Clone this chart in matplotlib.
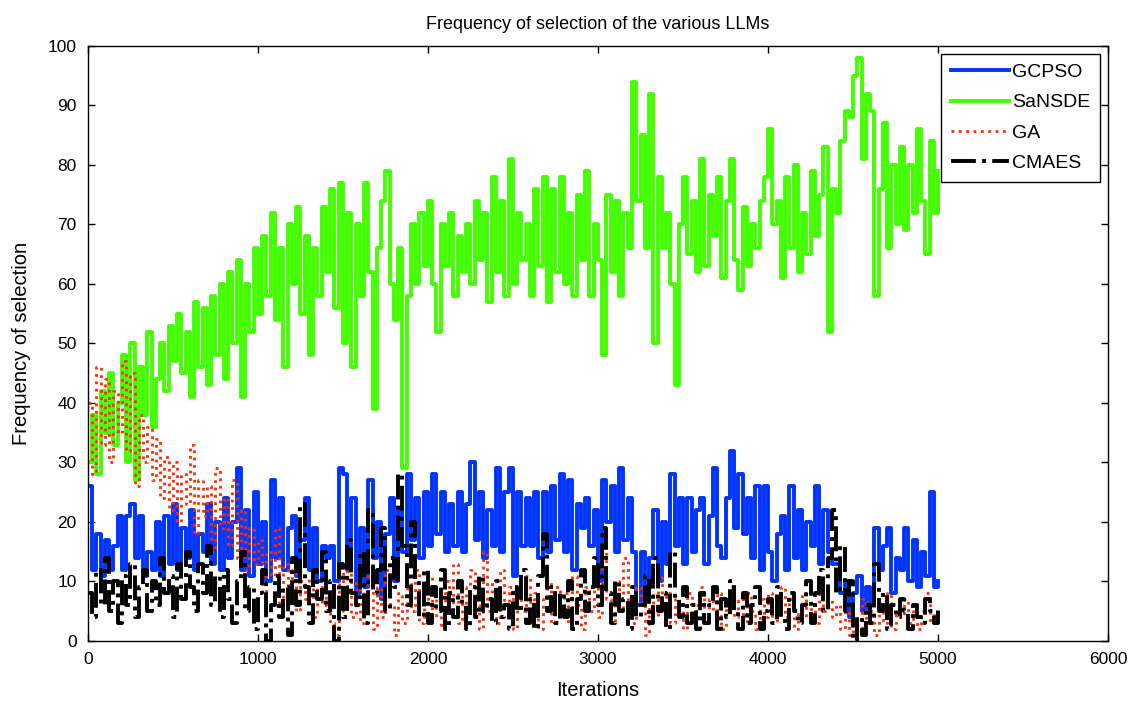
import numpy as np
import matplotlib
matplotlib.use("Agg")
import matplotlib.pyplot as plt

# ==========================================
# DATA (one value every 25 iterations, 0..5000)
# ==========================================

step = 25

gcpso = [
    26, 12, 18, 11, 17, 12, 16, 21,
    12, 21, 23, 14, 21, 11, 15, 12,
    20, 11, 21, 13, 23, 12, 19, 14,
    22, 12, 18, 15, 23, 13, 20, 12,
    24, 14, 20, 29, 12, 22, 11, 25,
    13, 20, 10, 27, 14, 24, 12, 19,
    21, 11, 17, 24, 12, 19, 10, 16,
    14, 16, 10, 29, 28, 12, 24, 8,
    19, 9, 27, 14, 20, 7, 18, 24,
    10, 22, 15, 28, 17, 24, 14, 25,
    16, 28, 18, 25, 15, 23, 16, 25,
    15, 23, 30, 17, 25, 14, 22, 16,
    29, 15, 25, 29, 11, 25, 16, 24,
    16, 25, 14, 25, 15, 26, 17, 28,
    15, 27, 12, 23, 19, 24, 16, 22,
    10, 27, 20, 26, 15, 29, 17, 24,
    15, 6, 15, 8, 14, 22, 10, 20,
    13, 28, 16, 24, 13, 24, 15, 22,
    24, 13, 21, 29, 16, 14, 24, 32,
    19, 28, 18, 24, 14, 26, 12, 26,
    15, 10, 18, 21, 12, 26, 14, 22,
    12, 20, 16, 26, 13, 22, 15, 13,
    13, 8, 10, 4, 8, 11, 5, 9,
    6, 19, 12, 16, 19, 8, 14, 12,
    19, 10, 17, 9, 15, 11, 25, 9,
    10,
]

sansde = [
    30, 38, 28, 42, 35, 45, 33, 40,
    48, 30, 50, 27, 46, 38, 52, 36,
    44, 50, 42, 53, 47, 55, 45, 52,
    41, 57, 46, 56, 43, 58, 48, 60,
    44, 62, 50, 64, 41, 60, 52, 66,
    55, 68, 58, 72, 54, 66, 46, 70,
    60, 73, 55, 68, 48, 66, 58, 73,
    62, 76, 56, 77, 50, 72, 46, 70,
    58, 77, 62, 39, 66, 74, 79, 60,
    54, 66, 29, 58, 70, 60, 72, 63,
    74, 60, 52, 70, 63, 72, 58, 68,
    62, 70, 60, 74, 64, 72, 57, 78,
    62, 74, 58, 81, 60, 72, 64, 70,
    58, 76, 63, 78, 57, 76, 62, 78,
    60, 72, 58, 75, 64, 79, 58, 70,
    64, 48, 75, 62, 74, 58, 72, 66,
    94, 74, 85, 66, 92, 50, 78, 66,
    72, 60, 43, 70, 78, 65, 74, 62,
    81, 63, 75, 68, 78, 61, 74, 81,
    64, 59, 73, 63, 70, 66, 74, 78,
    86, 70, 74, 61, 78, 66, 80, 62,
    72, 65, 79, 68, 75, 83, 52, 76,
    72, 84, 89, 88, 95, 98, 81, 92,
    89, 58, 76, 87, 66, 80, 70, 83,
    69, 80, 72, 86, 74, 65, 84, 72,
    79,
]

ga = [
    40, 28, 46, 33, 44, 30, 42, 35,
    47, 32, 45, 26, 38, 30, 36, 27,
    34, 24, 31, 22, 30, 20, 28, 23,
    33, 18, 27, 21, 26, 15, 29, 19,
    24, 16, 27, 14, 22, 12, 19, 13,
    17, 8, 15, 11, 19, 6, 13, 9,
    12, 5, 10, 7, 11, 4, 9, 6,
    8, 3, 1, 12, 5, 13, 4, 10,
    3, 8, 11, 2, 9, 4, 12, 6,
    1, 8, 3, 10, 5, 12, 3, 7,
    11, 4, 8, 2, 10, 5, 13, 3,
    9, 4, 12, 6, 2, 15, 5, 10,
    3, 12, 6, 9, 2, 8, 5, 11,
    4, 8, 2, 7, 10, 3, 9, 5,
    8, 3, 11, 6, 2, 9, 5, 12,
    4, 15, 7, 3, 10, 5, 14, 6,
    3, 9, 6, 1, 8, 4, 11, 5,
    8, 3, 7, 5, 2, 8, 4, 6,
    9, 3, 7, 5, 8, 2, 6, 9,
    4, 7, 3, 8, 5, 2, 7, 4,
    8, 3, 6, 9, 4, 7, 2, 5,
    8, 4, 6, 3, 9, 5, 7, 4,
    6, 2, 5, 1, 4, 2, 7, 3,
    5, 1, 6, 3, 8, 2, 5, 4,
    7, 3, 6, 2, 5, 8, 3, 5,
    4,
]

cmaes = [
    8, 4, 12, 6, 14, 5, 10, 3,
    11, 6, 13, 4, 9, 12, 5, 10,
    6, 14, 8, 11, 4, 13, 7, 15,
    9, 5, 13, 8, 16, 6, 11, 4,
    12, 7, 3, 10, 15, 5, 9, 2,
    8, 12, 0, 6, 11, 4, 9, 1,
    14, 6, 23, 9, 3, 12, 7, 15,
    5, 10, 0, 13, 4, 17, 8, 6,
    15, 3, 22, 8, 12, 19, 5, 14,
    9, 28, 16, 6, 20, 10, 4, 12,
    3, 9, 5, 12, 2, 8, 4, 10,
    6, 2, 9, 4, 11, 5, 7, 3,
    10, 4, 6, 2, 9, 5, 12, 3,
    7, 2, 11, 18, 5, 9, 3, 8,
    4, 10, 2, 7, 12, 5, 9, 14,
    6, 19, 8, 3, 10, 5, 7, 2,
    9, 4, 6, 11, 3, 14, 5, 8,
    2, 15, 7, 4, 9, 3, 6, 2,
    8, 3, 6, 9, 2, 7, 4, 10,
    5, 2, 8, 3, 6, 9, 2, 5,
    7, 3, 9, 4, 2, 8, 5, 3,
    6, 10, 3, 8, 12, 5, 14, 22,
    8, 16, 5, 10, 0, 4, 1, 6,
    3, 13, 5, 8, 2, 6, 4, 7,
    5, 2, 6, 4, 3, 7, 5, 3,
    5,
]

iterations = np.arange(len(sansde)) * step

# ==========================================
# PLOT
# ==========================================

plt.rcParams["font.family"] = ["Liberation Sans", "DejaVu Sans"]

fig = plt.figure(figsize=(11.41, 7.04), dpi=100)
ax = fig.add_axes([0.0771, 0.0895, 0.894, 0.8452])

ax.plot(iterations, gcpso, color="#0033ff", lw=2.8, ds="steps-post",
        label="GCPSO")
ax.plot(iterations, sansde, color="#44ff00", lw=2.8, ds="steps-post",
        label="SaNSDE")
ax.plot(iterations, ga, color="#ff2a00", lw=2.0, ls=":", ds="steps-post",
        label="GA")
ax.plot(iterations, cmaes, color="black", lw=2.8, ls="-.", ds="steps-post",
        label="CMAES")

ax.set_xlim(0, 6000)
ax.set_ylim(0, 100)
ax.set_xticks(range(0, 6001, 1000))
ax.set_yticks(range(0, 101, 10))
ax.tick_params(direction="in", top=True, right=True, labelsize=12.5,
               length=5, width=1, pad=8)
for s in ax.spines.values():
    s.set_linewidth(1.0)

ax.set_title("Frequency of selection of the various LLMs", fontsize=13, pad=12)
ax.set_xlabel("Iterations", fontsize=14.5, labelpad=10)
ax.set_ylabel("Frequency of selection", fontsize=14.5, labelpad=12)

leg = ax.legend(loc="upper right", fontsize=14, fancybox=False,
                framealpha=1, edgecolor="black", borderaxespad=0.4,
                handlelength=3.0, labelspacing=0.65, handletextpad=0.15,
                borderpad=0.5)
leg.get_frame().set_linewidth(1.0)

plt.savefig("out.png", dpi=100)
plt.close()
